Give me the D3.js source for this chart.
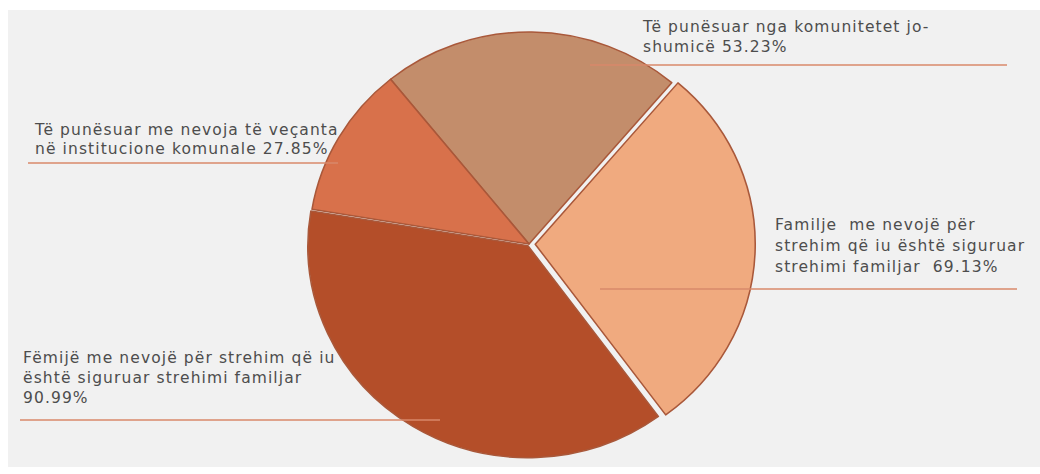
<!DOCTYPE html>
<html>
<head>
<meta charset="utf-8">
<script src="https://cdn.jsdelivr.net/npm/d3@7"></script>
<style>
  body { margin: 0; background: #fff; }
  svg { display: block; }
  text { font-family: "DejaVu Sans", sans-serif; fill: #4d4d4d; white-space: pre; }
</style>
</head>
<body>
<svg id="chart"></svg>
<script>
var width = 1040;
var height = 474;

var categories = [
  ["Të punësuar nga komunitetet jo-", "shumicë 53.23%"],
  ["Familje  me nevojë për", "strehim që iu është siguruar", "strehimi familjar  69.13%"],
  ["Fëmijë me nevojë për strehim që iu", "është siguruar strehimi familjar", "90.99%"],
  ["Të punësuar me nevoja të veçanta", "në institucione komunale 27.85%"]
];
var values = [53.23, 69.13, 90.99, 27.85];
var colors = ["#c38d6b", "#f0aa7f", "#b44e29", "#d8714b"];
var explode = [0, 6, 2, 0];

// label placement: first baseline and leader line [x1, x2, y]
var labelPos = [
  {x: 643, y: 32, dy: 20, line: [590, 1007, 65]},
  {x: 775, y: 230, dy: 21, line: [600, 1017, 289]},
  {x: 23, y: 363, dy: 20, line: [20, 440, 420]},
  {x: 35, y: 135, dy: 19, line: [28, 338, 163]}
];

var svg = d3.select("#chart")
  .attr("width", width)
  .attr("height", height);

svg.append("rect")
  .attr("x", 8).attr("y", 10)
  .attr("width", width - 8).attr("height", 457)
  .attr("fill", "#f1f1f1");

var cx = 529, cy = 244, rx = 220, ry = 212;

var pie = d3.pie()
  .sort(null)
  .startAngle(-39 * Math.PI / 180)
  .endAngle((360 - 39) * Math.PI / 180);

var arc = d3.arc().innerRadius(0).outerRadius(ry);

var g = svg.append("g")
  .attr("transform", "translate(" + cx + "," + cy + ") scale(" + (rx / ry) + ",1)");

g.selectAll("path")
  .data(pie(values))
  .enter().append("path")
    .attr("d", arc)
    .attr("fill", function(d, i) { return colors[i]; })
    .attr("stroke", "#a9583a")
    .attr("stroke-width", 1.5)
    .attr("stroke-linejoin", "round")
    .attr("transform", function(d, i) {
      var a = (d.startAngle + d.endAngle) / 2;
      return "translate(" + (Math.sin(a) * explode[i]) + "," + (-Math.cos(a) * explode[i]) + ")";
    });

// leader lines
svg.selectAll("line.leader")
  .data(labelPos)
  .enter().append("line")
    .attr("class", "leader")
    .attr("x1", function(d) { return d.line[0]; })
    .attr("x2", function(d) { return d.line[1]; })
    .attr("y1", function(d) { return d.line[2]; })
    .attr("y2", function(d) { return d.line[2]; })
    .attr("stroke", "#d8886a")
    .attr("stroke-width", 1.5);

// labels
var labels = svg.selectAll("text.label")
  .data(categories)
  .enter().append("text")
    .attr("class", "label")
    .attr("font-size", 15.5)
    .attr("letter-spacing", 1.1);

labels.selectAll("tspan")
  .data(function(d, i) { return d.map(function(s) { return {s: s, p: labelPos[i]}; }); })
  .enter().append("tspan")
    .attr("x", function(d) { return d.p.x; })
    .attr("y", function(d, j) { return d.p.y + j * d.p.dy; })
    .text(function(d) { return d.s; });
</script>
</body>
</html>
